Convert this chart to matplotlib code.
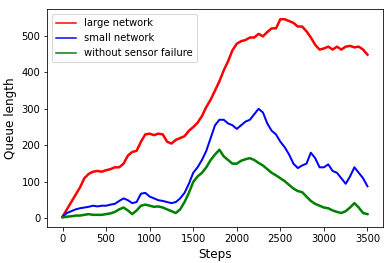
import numpy as np
import matplotlib
matplotlib.use("Agg")
import matplotlib.pyplot as plt

steps = np.arange(0, 3501, 50)

large = [5, 25, 45, 65, 85, 110, 122, 128, 130, 128, 132, 135, 140, 140, 150, 172,
         182, 185, 210, 230, 232, 228, 232, 230, 210, 205, 215, 220, 225, 240, 250,
         262, 280, 305, 325, 350, 375, 405, 430, 460, 478, 485, 488, 495, 495, 505,
         498, 510, 520, 520, 545, 545, 540, 535, 525, 525, 512, 495, 475, 462, 465,
         470, 462, 470, 462, 470, 472, 468, 470, 462, 448]

small = [5, 15, 20, 25, 28, 30, 32, 35, 33, 35, 35, 38, 40, 48, 55, 50, 42, 45,
         68, 70, 60, 55, 50, 48, 45, 42, 45, 55, 70, 95, 125, 140, 160, 185, 220,
         255, 270, 270, 260, 255, 245, 255, 265, 270, 285, 300, 290, 260, 240, 230,
         210, 195, 175, 150, 138, 145, 150, 180, 165, 140, 140, 148, 130, 125, 110,
         95, 115, 140, 125, 110, 88]

no_failure = [3, 5, 6, 8, 8, 10, 12, 10, 10, 10, 12, 14, 18, 25, 30, 22, 12, 22,
              35, 38, 35, 32, 33, 30, 25, 20, 15, 25, 45, 70, 100, 115, 125, 140,
              160, 175, 188, 170, 160, 150, 150, 158, 162, 165, 160, 152, 145, 135,
              125, 118, 110, 102, 92, 82, 75, 72, 60, 48, 40, 35, 30, 28, 22, 18,
              15, 20, 30, 42, 30, 15, 12]

fig = plt.figure(figsize=(392 / 72, 263 / 72), dpi=72)
ax = fig.add_axes([0.1207, 0.1357, 0.8556, 0.8289])

ax.plot(steps, large, color='red', lw=2.5, label='large network')
ax.plot(steps, small, color='blue', lw=2.0, label='small network')
ax.plot(steps, no_failure, color='green', lw=2.5, label='without sensor failure')

ax.set_xlabel('Steps', fontsize=12)
ax.set_ylabel('Queue length', fontsize=12)
ax.set_xticks([0, 500, 1000, 1500, 2000, 2500, 3000, 3500])
ax.set_yticks([0, 100, 200, 300, 400, 500])
ax.tick_params(labelsize=10)
leg = ax.legend(loc='upper left', fontsize=10)
for h in leg.get_lines():
    h.set_linewidth(1.5)

fig.savefig('out.png', dpi=72)
